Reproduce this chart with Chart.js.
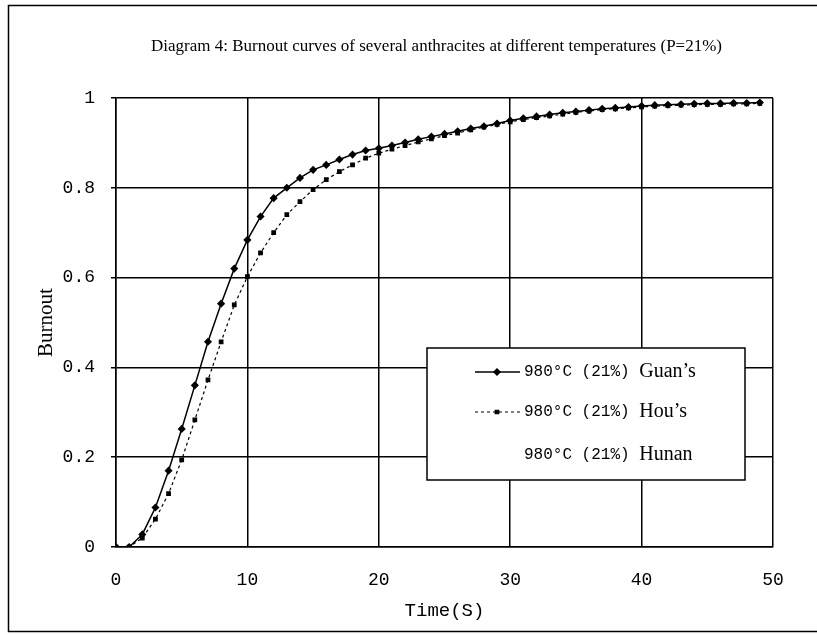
<!DOCTYPE html>
<html>
<head>
<meta charset="utf-8">
<script src="https://cdn.jsdelivr.net/npm/chart.js@4"></script>
<style>
  html, body { margin: 0; padding: 0; background: #fff; }
</style>
</head>
<body>
<canvas id="burnoutChart" width="817" height="635"></canvas>
<script>
// 1) Data

const timeSeconds = [0, 1, 2, 3, 4, 5, 6, 7, 8, 9,
  10, 11, 12, 13, 14, 15, 16, 17, 18, 19,
  20, 21, 22, 23, 24, 25, 26, 27, 28, 29,
  30, 31, 32, 33, 34, 35, 36, 37, 38, 39,
  40, 41, 42, 43, 44, 45, 46, 47, 48, 49];

const guanBurnout = [0, 0, 0.028, 0.088, 0.17, 0.263, 0.36, 0.457, 0.542, 0.62,
  0.684, 0.736, 0.777, 0.80, 0.822, 0.84, 0.851, 0.863, 0.874, 0.883,
  0.888, 0.894, 0.901, 0.908, 0.914, 0.92, 0.926, 0.932, 0.937, 0.943,
  0.95, 0.955, 0.959, 0.963, 0.967, 0.97, 0.973, 0.976, 0.978, 0.98,
  0.982, 0.984, 0.985, 0.986, 0.987, 0.988, 0.988, 0.989, 0.989, 0.99];

const houBurnout = [0, 0, 0.02, 0.062, 0.119, 0.194, 0.283, 0.372, 0.457, 0.539,
  0.602, 0.655, 0.70, 0.74, 0.769, 0.796, 0.818, 0.836, 0.851, 0.866,
  0.877, 0.886, 0.894, 0.902, 0.909, 0.916, 0.922, 0.929, 0.935, 0.941,
  0.947, 0.952, 0.956, 0.96, 0.964, 0.968, 0.971, 0.974, 0.976, 0.978,
  0.98, 0.982, 0.983, 0.984, 0.985, 0.986, 0.986, 0.987, 0.987, 0.988];

// Hunan has a legend entry but no visible marks in the chart
const hunanBurnout = [];

const seriesLabels = ["980°C (21%) Guan’s", "980°C (21%) Hou’s", "980°C (21%) Hunan"];

const xTickValues = [0, 10, 20, 30, 40, 50];
const yTickValues = [0, 0.2, 0.4, 0.6, 0.8, 1];
const yTickLabels = ["0", "0.2", "0.4", "0.6", "0.8", "1"];

const chartTitle = "Diagram 4: Burnout curves of several anthracites at different temperatures (P=21%)";


function toPoints(values) {
    return values.map((v, i) => ({ x: timeSeconds[i], y: v }));
}


// 2) Frame, title and legend box (Excel style)

const excelDecor = {
    id: "excelDecor",

    beforeDraw(chart) {
        const ctx = chart.ctx;
        ctx.save();
        ctx.fillStyle = "#fff";
        ctx.fillRect(0, 0, chart.width, chart.height);
        ctx.strokeStyle = "#000";
        ctx.lineWidth = 1.5;
        ctx.strokeRect(8.5, 5.5, chart.width + 10, 626);

        const area = chart.chartArea;
        ctx.fillStyle = "#000";
        ctx.font = "17px 'Liberation Serif'";
        ctx.textAlign = "center";
        ctx.textBaseline = "middle";
        ctx.fillText(chartTitle, (area.left + area.right) / 2 - 8, 47);
        ctx.restore();
    },

    afterDraw(chart) {
        const ctx = chart.ctx;
        const box = { left: 427, top: 348, right: 745, bottom: 480 };
        const rows = [372, 412, 455];

        ctx.save();
        ctx.fillStyle = "#fff";
        ctx.fillRect(box.left, box.top, box.right - box.left, box.bottom - box.top);
        ctx.strokeStyle = "#000";
        ctx.lineWidth = 1.5;
        ctx.strokeRect(box.left, box.top, box.right - box.left, box.bottom - box.top);

        chart.data.datasets.forEach((ds, i) => {
            const y = rows[i];

            if (ds.data.length) {
                ctx.strokeStyle = ds.borderColor;
                ctx.lineWidth = ds.borderWidth;
                ctx.setLineDash(ds.borderDash || []);
                ctx.beginPath();
                ctx.moveTo(475, y);
                ctx.lineTo(520, y);
                ctx.stroke();
                ctx.setLineDash([]);
                ctx.fillStyle = ds.pointBackgroundColor;
                Chart.helpers.drawPoint(ctx, {
                    pointStyle: ds.pointStyle,
                    radius: ds.pointRadius,
                    rotation: 0,
                    borderWidth: 1
                }, 497, y);
            }

            const cut = ds.label.lastIndexOf(" ");
            const prefix = ds.label.slice(0, cut + 1);
            const name = ds.label.slice(cut + 1);

            ctx.fillStyle = "#000";
            ctx.textAlign = "left";
            ctx.textBaseline = "middle";
            ctx.font = "16px 'Liberation Mono'";
            ctx.fillText(prefix, 524, y);
            const w = ctx.measureText(prefix).width;
            ctx.font = "20px 'Liberation Serif'";
            ctx.fillText(name, 524 + w, y);
        });
        ctx.restore();
    }
};


// 3) Build chart

new Chart(document.getElementById("burnoutChart"), {

    type: "line",

    data: {
        datasets: [
            {
                label: seriesLabels[0],
                data: toPoints(guanBurnout),
                borderColor: "#000",
                borderWidth: 1.5,
                pointStyle: "rectRot",
                pointRadius: 3,
                pointBackgroundColor: "#000",
                pointBorderColor: "#000",
                tension: 0
            },
            {
                label: seriesLabels[1],
                data: toPoints(houBurnout),
                borderColor: "#000",
                borderWidth: 1.2,
                borderDash: [3, 3],
                pointStyle: "rect",
                pointRadius: 2.5,
                pointBackgroundColor: "#000",
                pointBorderColor: "#000",
                tension: 0
            },
            {
                label: seriesLabels[2],
                data: toPoints(hunanBurnout),
                borderColor: "rgba(0,0,0,0)",
                pointRadius: 0
            }
        ]
    },

    options: {
        responsive: false,
        animation: false,
        layout: {
            padding: { left: 0, right: 44, top: 98, bottom: 0 }
        },
        plugins: {
            legend: { display: false },
            title: { display: false },
            tooltip: { enabled: false }
        },
        scales: {
            x: {
                type: "linear",
                min: 0,
                max: 50,
                afterFit: (scale) => { scale.height = 88; },
                afterBuildTicks: (scale) => {
                    scale.ticks = xTickValues.map((v) => ({ value: v }));
                },
                grid: { color: "#000", lineWidth: 1.5, drawTicks: false },
                border: { color: "#000", width: 1.5 },
                ticks: {
                    padding: 22,
                    color: "#000",
                    font: { family: "'Liberation Mono'", size: 18 },
                    maxRotation: 0
                },
                title: {
                    display: true,
                    text: "Time(S)",
                    color: "#000",
                    font: { family: "'Liberation Mono'", size: 19 },
                    padding: { top: 0, bottom: 13 }
                }
            },
            y: {
                min: 0,
                max: 1,
                afterFit: (scale) => { scale.width = 116; },
                afterBuildTicks: (scale) => {
                    scale.ticks = yTickValues.map((v) => ({ value: v }));
                },
                grid: { color: "#000", lineWidth: 1.5, tickLength: 5 },
                border: { color: "#000", width: 1.5 },
                ticks: {
                    padding: 16,
                    color: "#000",
                    font: { family: "'Liberation Mono'", size: 18 },
                    callback: (value, index) => yTickLabels[index]
                },
                title: {
                    display: true,
                    text: "Burnout",
                    color: "#000",
                    font: { family: "'Liberation Serif'", size: 21 },
                    padding: { top: 34, bottom: 0 }
                }
            }
        }
    },

    plugins: [excelDecor]

});
</script>
</body>
</html>
